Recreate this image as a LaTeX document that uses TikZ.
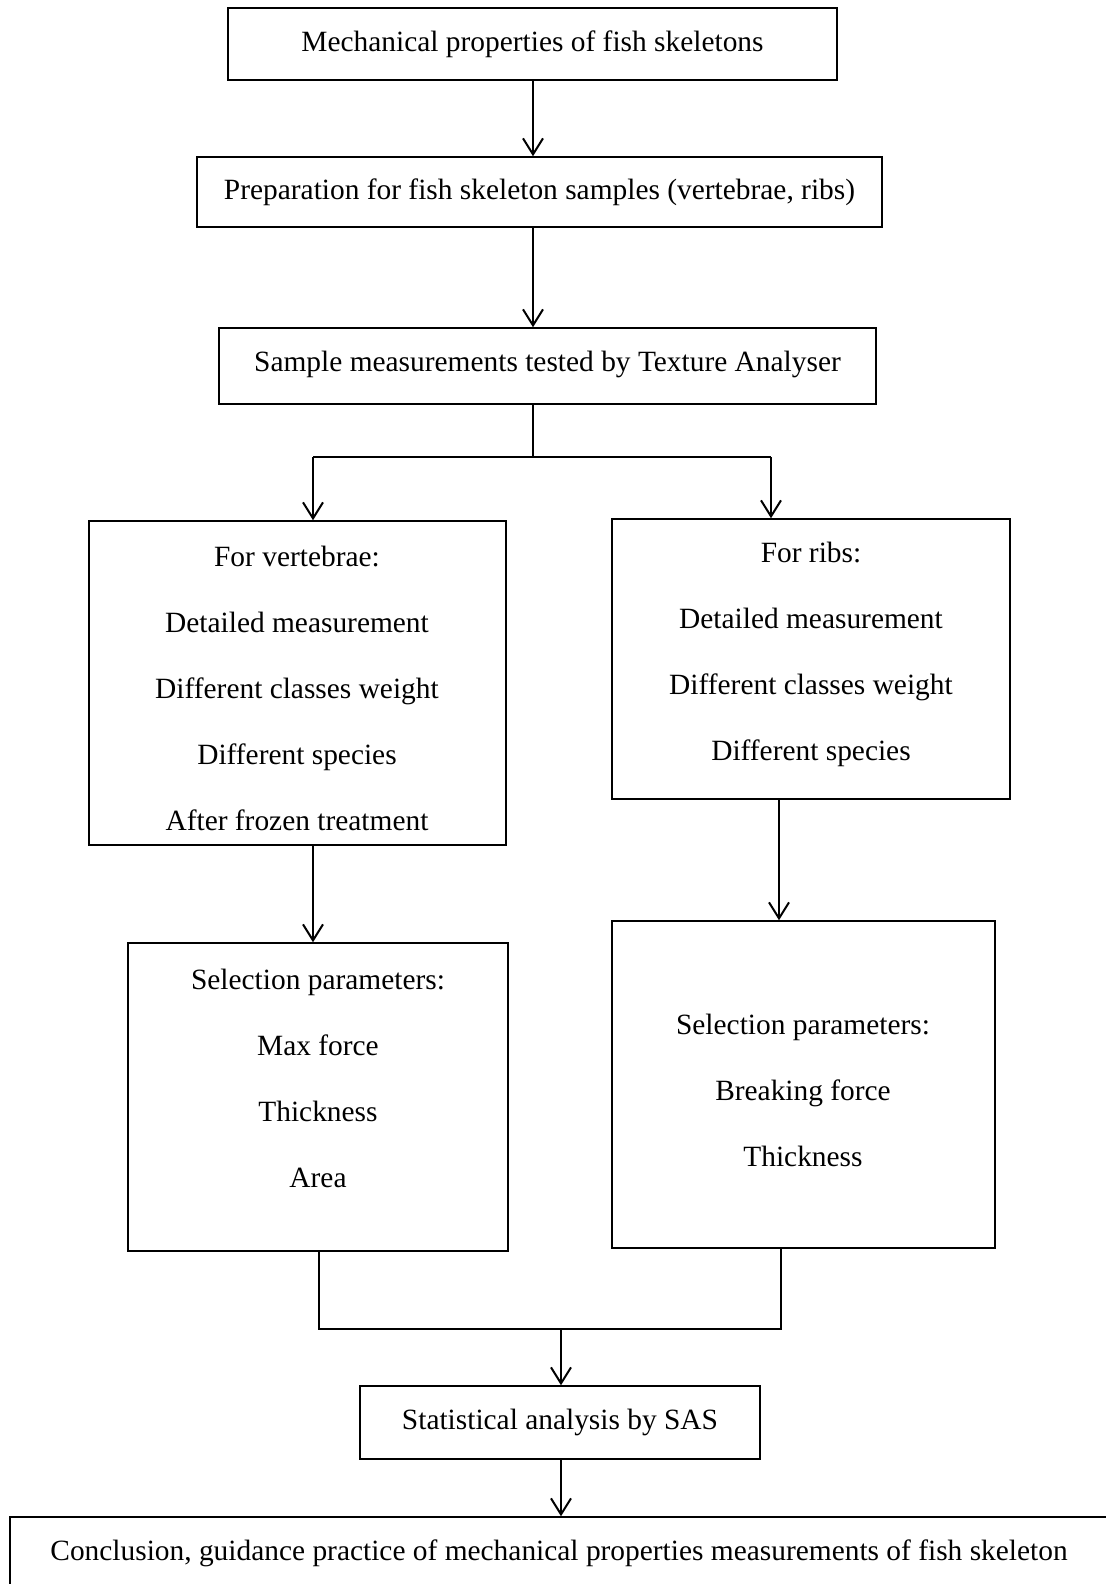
\documentclass[tikz,border=0pt]{standalone}
\usepackage{fontspec}
\setmainfont{Liberation Serif}
\usetikzlibrary{arrows.meta,fit}
\tikzset{
  caja/.style={draw, line width=0.75pt, inner sep=0pt},
  texto/.style={align=center, inner sep=0pt, font=\fontsize{14.7}{33}\selectfont},
  flecha/.style={line width=1pt, -{Straight Barb[length=8pt,width=10pt,line width=1pt]}},
  linea/.style={line width=0.75pt}
}
\begin{document}
\begin{tikzpicture}[x=0.5pt,y=-0.5pt]
    \useasboundingbox (0,0) rectangle (1105,1584);
    % Cajas principales
    \node[caja, fit={(228,8) (837,80)}] (titulo) {};
    \node[texto] at (titulo) {Mechanical properties of fish skeletons};
    \node[caja, fit={(197,157) (882,227)}] (prep) {};
    \node[texto] at (prep) {Preparation for fish skeleton samples (vertebrae, ribs)};
    \node[caja, fit={(219,328) (876,404)}] (muestra) {};
    \node[texto] at ([yshift=1pt]muestra) {Sample measurements tested by Texture Analyser};
    % Ramas
    \node[caja, fit={(89,521) (506,845)}] (vert) {};
    \node[texto] at (297,688) {For vertebrae:\\Detailed measurement\\Different classes weight\\Different species\\After frozen treatment};
    \node[caja, fit={(612,519) (1010,799)}] (costillas) {};
    \node[texto] at (811,654) {For ribs:\\Detailed measurement\\Different classes weight\\Different species};
    \node[caja, fit={(128,943) (508,1251)}] (selv) {};
    \node[texto] at (318,1078) {Selection parameters:\\Max force\\Thickness\\Area};
    \node[caja, fit={(612,921) (995,1248)}] (selc) {};
    \node[texto] at (803,1090) {Selection parameters:\\Breaking force\\Thickness};
    % Final
    \node[caja, fit={(360,1386) (760,1459)}] (sas) {};
    \node[texto] at (sas) {Statistical analysis by SAS};
    \node[caja, fit={(10,1517) (1108,1592)}] (concl) {};
    \node[texto] at (559,1553) {Conclusion, guidance practice of mechanical properties measurements of fish skeleton};
    % Puntos de union
    \coordinate (div) at (533,457);
    \coordinate (izq) at (313,457);
    \coordinate (der) at (771,457);
    \coordinate (cx) at (779,0);
    \coordinate (ui) at (319,1329);
    \coordinate (ud) at (781,1329);
    \coordinate (um) at (561,1329);
    % Flechas
    \draw[flecha] (titulo.south -| div) -- (prep.north -| div);
    \draw[flecha] (prep.south -| div) -- (muestra.north -| div);
    \draw[linea] (muestra.south -| div) -- (div);
    \draw[linea] (izq) -- (der);
    \draw[flecha] (izq) -- (vert.north -| izq);
    \draw[flecha] (der) -- (costillas.north -| der);
    \draw[flecha] (vert.south -| izq) -- (selv.north -| izq);
    \draw[flecha] (costillas.south -| cx) -- (selc.north -| cx);
    \draw[linea] (selv.south -| ui) -- (ui) -- (ud) -- (selc.south -| ud);
    \draw[flecha] (um) -- (sas.north -| um);
    \draw[flecha] (sas.south -| um) -- (concl.north -| um);
\end{tikzpicture}
\end{document}
